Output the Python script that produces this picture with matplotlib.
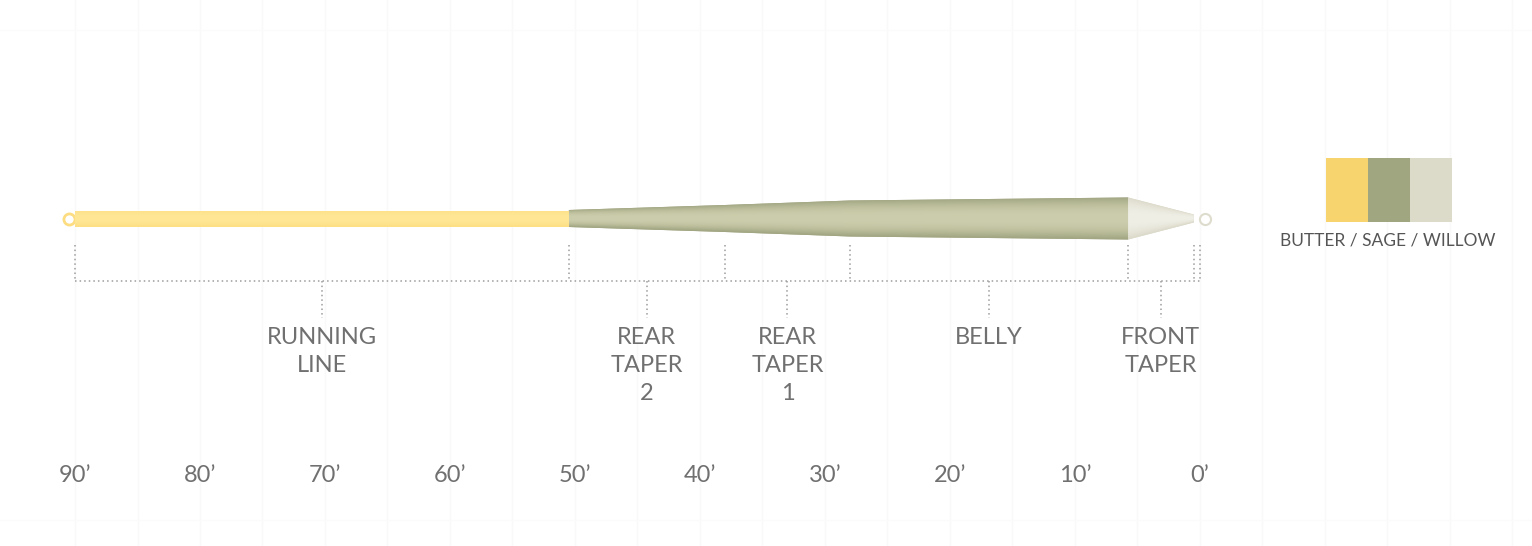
import numpy as np
import matplotlib
matplotlib.use('Agg')
import matplotlib.pyplot as plt
from matplotlib.colors import to_rgb

# Line profile (feet from tip, relative diameter)
running_ft = [90, 50.5]
running_dia = [16, 16]
head_ft = [50.5, 38, 28, 5.75]
head_dia = [17, 27, 36, 42]
tip_ft = [5.75, 0.5]
tip_dia = [42, 8]

# Section boundaries and labels
bounds_ft = [90, 50.5, 38, 28, 5.75, 0.5, 0]
section_names = ['RUNNING\nLINE', 'REAR\nTAPER\n2', 'REAR\nTAPER\n1', 'BELLY', 'FRONT\nTAPER']
section_edges = [(90, 50.5), (50.5, 38), (38, 28), (28, 5.75), (5.75, 0.5)]

tick_ft = [90, 80, 70, 60, 50, 40, 30, 20, 10, 0]
tick_labels = ['90\u2019', '80\u2019', '70\u2019', '60\u2019', '50\u2019',
               '40\u2019', '30\u2019', '20\u2019', '10\u2019', '0\u2019']

legend_names = 'BUTTER / SAGE / WILLOW'
legend_colors = ['#F8D46E', '#9FA680', '#DCDAC8']

# Style
center_y = 218.5
dot_col = '#9c9c9c'
txt_col = '#707070'
font = 'Lato'
ft_size = 17


def shaded_section(ax, xs, dia, edge, mid, zorder=3):
    xs = np.asarray(xs, dtype=float)
    dia = np.asarray(dia, dtype=float)
    top = center_y - dia / 2
    bot = center_y + dia / 2
    patch = ax.fill(np.concatenate([xs, xs[::-1]]), np.concatenate([top, bot[::-1]]),
                    color=edge, lw=0, zorder=zorder)[0]

    hmax = dia.max() / 2 + 1
    gx = np.linspace(xs[0], xs[-1], 300)
    gy = np.linspace(center_y - hmax, center_y + hmax, 120)
    hw = np.interp(gx, xs[::-1], dia[::-1] / 2)
    v = np.clip(np.abs(gy[:, None] - center_y) / hw[None, :], 0, 1)
    s = v ** 2.2
    e = np.array(to_rgb(edge))
    m = np.array(to_rgb(mid))
    img = m[None, None, :] * (1 - s[..., None]) + e[None, None, :] * s[..., None]
    im = ax.imshow(img, extent=[xs[0], xs[-1], center_y + hmax, center_y - hmax],
                   aspect='auto', interpolation='bilinear', zorder=zorder + 0.1)
    im.set_clip_path(patch)


fig = plt.figure(figsize=(15.32, 5.46), dpi=100)
ax = fig.add_axes([0, 0, 1, 1])

# faint background grid
for g in np.arange(90, -30, -5):
    ax.axvline(g, color='#f9f9f9', lw=1, zorder=0)
for g in [30, 520]:
    ax.axhline(g, color='#fbfbfb', lw=1, zorder=0)

# end loops
ax.plot([90.5], [center_y + 0.5], marker='o', ms=8, mfc='white', mec='#FCDD82', mew=2, zorder=2)
ax.plot([-0.4], [center_y + 0.5], marker='o', ms=8, mfc='white', mec='#DEDCCD', mew=1.5, zorder=2)

# fly line
shaded_section(ax, running_ft, running_dia, '#FDDF86', '#FFE796')
shaded_section(ax, head_ft, head_dia, '#A2A682', '#CCCDAC')
shaded_section(ax, tip_ft, tip_dia, '#DCDACA', '#F0EFE6')

# dotted bracket
dot_ls = (0, (1, 2))
for b in bounds_ft:
    ax.plot([b, b], [245, 281], color=dot_col, lw=1.1, ls=dot_ls, zorder=1)
ax.plot([bounds_ft[0], bounds_ft[-1]], [281, 281], color=dot_col, lw=1.1, ls=dot_ls, zorder=1)

for name, (a, b) in zip(section_names, section_edges):
    xm = (a + b) / 2
    ax.plot([xm, xm], [281, 318], color=dot_col, lw=1.1, ls=dot_ls, zorder=1)
    for i, line in enumerate(name.split('\n')):
        ax.text(xm, 344 + 28 * i, line, ha='center', va='baseline', fontsize=ft_size,
                family=font, color=txt_col)

# distance labels
for t, lab in zip(tick_ft, tick_labels):
    ax.text(t, 482, lab, ha='center', va='baseline', fontsize=ft_size, family=font, color=txt_col)

# colour legend
for i, c in enumerate(legend_colors):
    x0 = -10.08 - i * 3.36
    ax.fill([x0, x0 - 3.36, x0 - 3.36, x0], [158, 158, 222, 222], color=c, lw=0, zorder=3)
ax.text(-15.0, 245, legend_names, ha='center', va='baseline', fontsize=12.5,
        family=font, color='#555555')

ax.set_xlim(96, (1200 - 1532) / 12.5)
ax.set_ylim(546, 0)
ax.axis('off')

fig.savefig('out.png', dpi=100)
